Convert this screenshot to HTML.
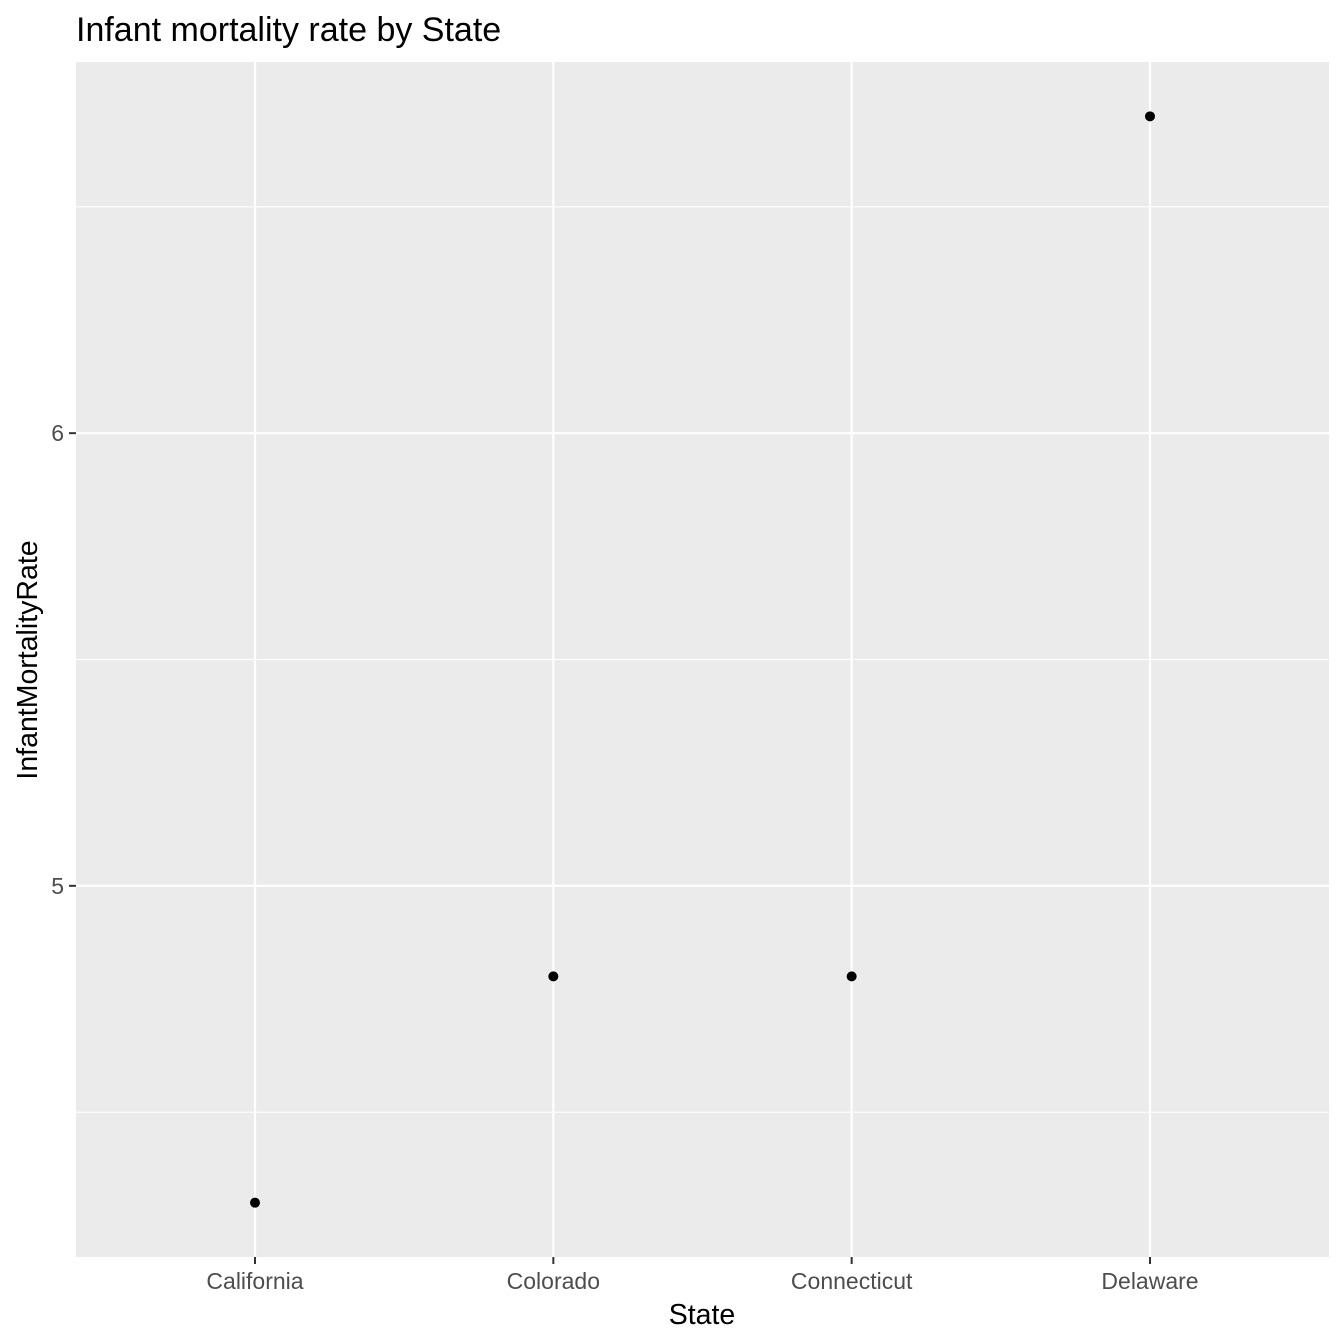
<!DOCTYPE html>
<html><head><meta charset="utf-8"><style>
html,body{margin:0;padding:0;background:#fff;}
svg{display:block;font-family:"Liberation Sans",Arial,sans-serif;}
</style></head><body>
<svg id="chart" width="1344" height="1344" viewBox="0 0 1344 1344" xmlns="http://www.w3.org/2000/svg">
<text x="76" y="41" font-size="34" fill="#000">Infant mortality rate by State</text>
<rect x="76" y="62" width="1253" height="1195" fill="#EBEBEB"/>
<g id="grid"></g>
<g id="axes"></g>
<g id="points"></g>
<text x="702" y="1324" font-size="28.5" text-anchor="middle" fill="#000">State</text>
<text transform="translate(37,660) rotate(-90)" font-size="28.5" text-anchor="middle" fill="#000">InfantMortalityRate</text>
</svg>
<script>
const categories = ["California","Colorado","Connecticut","Delaware"];
const values = [4.3, 4.8, 4.8, 6.7];
const yTicks = [5, 6];
const yMinor = [4.5, 5.5, 6.5];

const L=76,R=1329,T=62,B=1257;
const ymin=Math.min(...values), ymax=Math.max(...values), pad=(ymax-ymin)*0.05;
const y0=ymin-pad, y1=ymax+pad;
function y(v){return B-(v-y0)/(y1-y0)*(B-T);}
function x(i){const lo=1-0.6, hi=categories.length+0.6; return L+((i+1)-lo)/(hi-lo)*(R-L);}
const NS="http://www.w3.org/2000/svg";
function mk(tag,attrs,parent){const e=document.createElementNS(NS,tag);for(const k in attrs)e.setAttribute(k,attrs[k]);parent.appendChild(e);return e;}
const grid=document.getElementById('grid'), axes=document.getElementById('axes'), pts=document.getElementById('points');
yMinor.forEach(v=>{const py=y(v);if(py<T||py>B)return;
  const l=mk('line',{x1:L,x2:R,y1:py,y2:py,stroke:'#fff','stroke-width':1.1},grid);
  
  });
yTicks.forEach(v=>{const py=y(v);
  const l=mk('line',{x1:L,x2:R,y1:py,y2:py,stroke:'#fff','stroke-width':2.2},grid);
  
  
  const t=mk('line',{x1:L-7,x2:L,y1:py,y2:py,stroke:'#333','stroke-width':2},axes);
  
  
  const tx=mk('text',{x:L-12,y:py+8,'font-size':23,'text-anchor':'end',fill:'#4D4D4D'},axes);
  tx.textContent=v;
  
  });
categories.forEach((c,i)=>{const px=x(i);
  const l=mk('line',{x1:px,x2:px,y1:T,y2:B,stroke:'#fff','stroke-width':2.2},grid);
  
  
  const t=mk('line',{x1:px,x2:px,y1:B,y2:B+7,stroke:'#333','stroke-width':2},axes);
  
  
  const tx=mk('text',{x:px,y:B+32,'font-size':23,'text-anchor':'middle',fill:'#4D4D4D'},axes);
  tx.textContent=c;
  
  
  const p=mk('circle',{cx:px,cy:y(values[i]),r:5,fill:'#000'},pts);
  
  });
</script>
</body></html>
